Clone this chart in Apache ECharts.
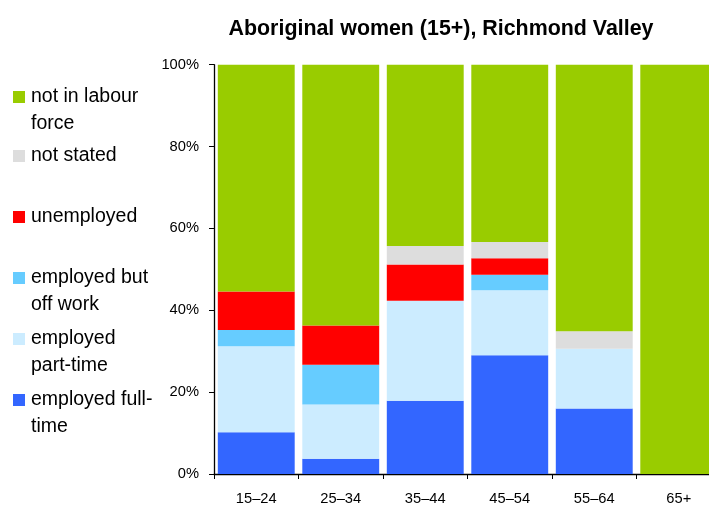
<!DOCTYPE html>
<html><head><meta charset="utf-8">
<script src="https://cdn.jsdelivr.net/npm/echarts@6/dist/echarts.min.js"></script>
<style>html,body{margin:0;padding:0;background:#fff;overflow:hidden}#c{width:721px;height:506px}</style>
</head><body><div id="c"></div>
<script>
const categories = ['15–24','25–34','35–44','45–54','55–64','65+'];
const fullTime   = [10.2, 3.7, 17.9, 29.0, 16.0, 0];
const partTime   = [21.0, 13.3, 24.4, 15.9, 14.6, 0];
const offWork    = [4.0, 9.7, 0, 3.8, 0, 0];
const unemployed = [9.4, 9.6, 8.9, 4.0, 0, 0];
const notStated  = [0, 0, 4.5, 4.0, 4.3, 0];
const notInLF    = [55.4, 63.7, 44.3, 43.3, 65.1, 100];
const yTicks = [0, 20, 40, 60, 80, 100];

const names = ['employed full-time','employed part-time','employed but off work','unemployed','not stated','not in labour force'];
const labels = {
  'not in labour force': 'not in labour\nforce',
  'not stated': 'not stated',
  'unemployed': 'unemployed',
  'employed but off work': 'employed but\noff work',
  'employed part-time': 'employed\npart-time',
  'employed full-time': 'employed full-\ntime'
};
const colors = ['#3366FF','#CCECFF','#66CCFF','#FF0000','#DDDDDD','#99CC00'];
const values = [fullTime, partTime, offWork, unemployed, notStated, notInLF];

const FONT = '"Liberation Sans", Arial, Helvetica, sans-serif';
const LH = 27;
const legendOrder = ['not in labour force','not stated','unemployed','employed but off work','employed part-time','employed full-time'];
const legendCenters = [97, 156, 217, 278, 339, 400];
const legends = legendOrder.map((n, i) => {
  const two = labels[n].indexOf('\n') >= 0;
  const top = legendCenters[i] - (two ? 1.5 * LH : 0.5 * LH);
  return {
    data: [n], left: 13, top: top, orient: 'vertical', padding: 0,
    icon: 'rect', itemWidth: 12, itemHeight: 12, itemGap: 0, selectedMode: false,
    formatter: (name) => (labels[name].indexOf('\n') >= 0 ? ' \n' : '') + labels[name],
    textStyle: { fontFamily: FONT, fontSize: 19.5, color: '#000', lineHeight: LH, padding: [0, 0, 0, 1] }
  };
});

const chart = echarts.init(document.getElementById('c'), null, {renderer: 'canvas'});
chart.setOption({
  animation: false,
  backgroundColor: '#fff',
  title: { text: 'Aboriginal women (15+), Richmond Valley', left: 436, top: 14, textAlign: 'center',
           textStyle: { fontFamily: FONT, fontSize: 21.4, fontWeight: 'bold', color: '#000' } },
  legend: legends,
  grid: { left: 214, top: 64.7, width: 507, height: 409.6, containLabel: false },
  xAxis: {
    type: 'category', data: categories,
    axisLine: { lineStyle: { color: '#000', width: 1.3 } },
    axisTick: { show: true, length: 5, lineStyle: { color: '#000' } },
    axisLabel: { fontFamily: FONT, fontSize: 14.7, color: '#000', margin: 17 }
  },
  yAxis: {
    type: 'value', min: yTicks[0], max: yTicks[yTicks.length-1], interval: 20,
    axisLine: { show: true, lineStyle: { color: '#000', width: 1.3 } },
    axisTick: { show: true, length: 5, lineStyle: { color: '#000' } },
    splitLine: { show: false },
    axisLabel: { fontFamily: FONT, fontSize: 14.7, color: '#000', margin: 15, formatter: '{value}%' }
  },
  series: names.map((n, i) => ({
    name: n, type: 'bar', stack: 'total', data: values[i],
    barCategoryGap: '9%',
    itemStyle: { color: colors[i] }
  }))
});
</script></body></html>
